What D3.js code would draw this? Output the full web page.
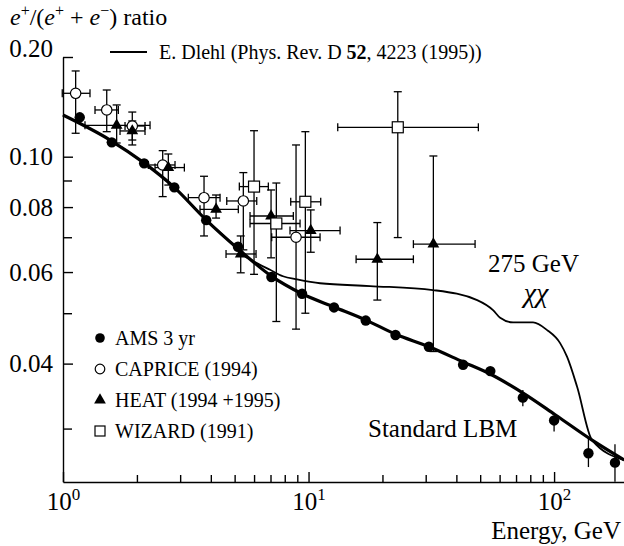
<!DOCTYPE html>
<html>
<head>
<meta charset="utf-8">
<script src="https://cdn.jsdelivr.net/npm/d3@7"></script>
<style>
body { margin: 0; background: #fff; }
svg { display: block; font-family: "Liberation Serif", "Times New Roman", serif; }
</style>
</head>
<body>
<svg width="624" height="546"></svg>
<script>
// AMS 3 yr (filled circles), energy in GeV and e+/(e+ + e-) ratio
var amsE = [1.17, 1.58, 2.14, 2.84, 3.83, 5.16, 7.06, 9.41, 12.7, 17.1, 22.6, 30.9, 42.6, 55.0, 74.6, 100, 138, 177];
var amsR = [0.1315, 0.1105, 0.0971, 0.0873, 0.0755, 0.0671, 0.0587, 0.0545, 0.0513, 0.0484, 0.0454, 0.0431, 0.0398, 0.0387, 0.0344, 0.0311, 0.0269, 0.0258];
var amsLo = [null, null, null, null, null, null, null, null, null, null, null, null, null, null, 0.0331, 0.0296, 0.0253, 0.0237];
var amsHi = [null, null, null, null, null, null, null, null, null, null, null, null, null, null, 0.0356, 0.0316, 0.0287, 0.0280];

// [E, ratio, E low, E high, ratio low, ratio high]
var caprice = [
	[1.126, 0.1554, 0.993, 1.288, 0.1177, 0.1815],
	[1.507, 0.1384, 1.350, 1.680, 0.119, 0.159],
	[1.915, 0.1238, 1.789, 2.158, 0.1123, 0.1364],
	[2.547, 0.0964, 2.226, 2.859, 0.0838, 0.1043],
	[3.753, 0.0834, 3.239, 4.361, 0.0704, 0.0917],
	[5.425, 0.0822, 4.644, 6.152, 0.0662, 0.0932],
	[8.894, 0.0700, 7.08, 11.14, 0.0466, 0.1085]
];
var heat = [
	[1.654, 0.1244, 1.229, 2.262, 0.110, 0.1433],
	[1.915, 0.1196, 1.707, 2.158, 0.1085, 0.1282],
	[2.685, 0.0953, 2.370, 3.121, 0.0882, 0.1019],
	[4.201, 0.0792, 3.614, 5.176, 0.0762, 0.0844],
	[5.294, 0.0650, 4.613, 6.112, 0.0598, 0.0704],
	[7.036, 0.0769, 5.777, 8.671, 0.0639, 0.0863],
	[10.21, 0.0721, 8.405, 13.44, 0.0655, 0.0790],
	[19.06, 0.0635, 15.62, 26.73, 0.0530, 0.0747],
	[32.24, 0.0679, 26.73, 47.67, 0.0422, 0.1005]
];
var wizard = [
	[5.998, 0.0876, 5.226, 6.859, 0.0594, 0.1198],
	[7.393, 0.0744, 5.777, 9.235, 0.0482, 0.0890],
	[9.705, 0.0819, 8.461, 11.21, 0.0500, 0.1190],
	[23.09, 0.1227, 13.15, 49.16, 0.0699, 0.1571]
];

// model curves
var lbmE = [1.0, 1.554, 2.138, 2.832, 3.824, 5.163, 7.036, 9.41, 12.70, 17.15, 22.5, 30.96, 42.6, 54.9, 74.8, 101, 142.8, 193];
var lbmR = [0.1336, 0.1123, 0.0973, 0.0874, 0.0756, 0.0665, 0.0590, 0.0545, 0.0514, 0.0485, 0.0456, 0.0431, 0.0403, 0.0382, 0.0351, 0.0319, 0.0285, 0.0261];
var dlehlE = [1.0, 1.554, 2.138, 2.832, 3.824, 5.0, 5.41, 5.94, 6.97, 7.87, 8.98, 11.14, 17.8, 32.1, 48.6, 56.4, 60.3, 68.1, 82.1, 93.7, 105.8, 113, 124.1, 142.8, 193];
var dlehlR = [0.1336, 0.1123, 0.0973, 0.0874, 0.0756, 0.0673, 0.0647, 0.0630, 0.0606, 0.0589, 0.0581, 0.0571, 0.0564, 0.0554, 0.0530, 0.0507, 0.0490, 0.0480, 0.0480, 0.0464, 0.0438, 0.0412, 0.0361, 0.0285, 0.0261];

var yMajor = [0.2, 0.1, 0.08, 0.06, 0.04];
var yMajorLabels = ["0.20", "0.10", "0.08", "0.06", "0.04"];
var yMinor = [0.09, 0.07, 0.05, 0.03];
var xMajor = [1, 10, 100];
var xMajorExp = ["0", "1", "2"];
var xMinor = [2, 3, 4, 5, 6, 7, 8, 9, 20, 30, 40, 50, 60, 70, 80, 90];

var svg = d3.select("svg");

var x = d3.scaleLog().domain([1, 200]).range([63, 628]);
// the printed axis is stretched above 0.1, so piecewise
var y = d3.scaleLog().domain([0.02368, 0.1, 0.2]).range([482, 156.7, 57]);

// y axis
var gy = svg.append("g")
	.attr("transform", "translate(63,0)")
	.call(d3.axisLeft(y).tickValues(yMajor).tickSizeInner(-10).tickSizeOuter(0).tickPadding(10)
		.tickFormat(function(d, i) { return yMajorLabels[i]; }));
gy.selectAll("text").attr("font-size", 25).attr("font-family", "Liberation Serif").attr("fill", "#000");
gy.selectAll(".tick").filter(function(d) { return d === 0.2; }).select("text").attr("transform", "translate(0,-9)");
var gy2 = svg.append("g")
	.attr("transform", "translate(63,0)")
	.call(d3.axisLeft(y).tickValues(yMinor).tickSizeInner(-9).tickSizeOuter(0).tickFormat(""));
gy2.select(".domain").remove();

// x axis
var gx = svg.append("g")
	.attr("transform", "translate(0,482)")
	.call(d3.axisBottom(x).tickValues(xMajor).tickSizeInner(-10).tickSizeOuter(0).tickPadding(10)
		.tickFormat(function() { return ""; }));
gx.selectAll(".tick text").each(function(d, i) {
	var t = d3.select(this).attr("font-size", 25).attr("font-family", "Liberation Serif").attr("fill", "#000");
	t.append("tspan").text("10");
	t.append("tspan").attr("dy", -10).attr("font-size", 17).text(xMajorExp[i]);
});
var gx2 = svg.append("g")
	.attr("transform", "translate(0,482)")
	.call(d3.axisBottom(x).tickValues(xMinor).tickSizeInner(-7).tickSizeOuter(0).tickFormat(""));
gx2.select(".domain").remove();
svg.selectAll(".domain, .tick line").attr("stroke-width", 1.4);

// curves
var line = d3.line()
	.x(function(d) { return x(d[0]); })
	.y(function(d) { return y(d[1]); })
	.curve(d3.curveMonotoneX);

svg.append("path")
	.datum(dlehlE.map(function(e, i) { return [e, dlehlR[i]]; }))
	.attr("d", line)
	.attr("fill", "none").attr("stroke", "#000").attr("stroke-width", 1.8);
svg.append("path")
	.datum(lbmE.map(function(e, i) { return [e, lbmR[i]]; }))
	.attr("d", line)
	.attr("fill", "none").attr("stroke", "#000").attr("stroke-width", 3.2);

// error bars
var cap = 4;
function errorBars(rows) {
	var g = svg.append("g").attr("stroke", "#000").attr("stroke-width", 1.3);
	rows.forEach(function(d) {
		var cx = x(d[0]), cy = y(d[1]);
		var x0 = x(d[2]), x1 = x(d[3]), y0 = y(d[4]), y1 = y(d[5]);
		g.append("line").attr("x1", x0).attr("x2", x1).attr("y1", cy).attr("y2", cy);
		g.append("line").attr("x1", x0).attr("x2", x0).attr("y1", cy - cap).attr("y2", cy + cap);
		g.append("line").attr("x1", x1).attr("x2", x1).attr("y1", cy - cap).attr("y2", cy + cap);
		g.append("line").attr("x1", cx).attr("x2", cx).attr("y1", y0).attr("y2", y1);
		g.append("line").attr("x1", cx - cap).attr("x2", cx + cap).attr("y1", y0).attr("y2", y0);
		g.append("line").attr("x1", cx - cap).attr("x2", cx + cap).attr("y1", y1).attr("y2", y1);
	});
}
errorBars(caprice);
errorBars(heat);
errorBars(wizard);

svg.append("g").attr("stroke", "#000").attr("stroke-width", 1.3)
	.selectAll("line")
	.data(amsE.map(function(e, i) { return [e, amsLo[i], amsHi[i]]; }).filter(function(d) { return d[1] != null; }))
	.enter().append("line")
	.attr("x1", function(d) { return x(d[0]); })
	.attr("x2", function(d) { return x(d[0]); })
	.attr("y1", function(d) { return y(d[1]); })
	.attr("y2", function(d) { return y(d[2]); });

// markers
var triangle = d3.symbol().type(d3.symbolTriangle).size(60);

svg.append("g").selectAll("circle")
	.data(amsE.map(function(e, i) { return [e, amsR[i]]; }))
	.enter().append("circle")
	.attr("cx", function(d) { return x(d[0]); })
	.attr("cy", function(d) { return y(d[1]); })
	.attr("r", 5.2)
	.attr("fill", "#000");

svg.append("g").selectAll("circle")
	.data(caprice)
	.enter().append("circle")
	.attr("cx", function(d) { return x(d[0]); })
	.attr("cy", function(d) { return y(d[1]); })
	.attr("r", 5.2)
	.attr("fill", "#fff").attr("stroke", "#000").attr("stroke-width", 1.2);

svg.append("g").selectAll("path")
	.data(heat)
	.enter().append("path")
	.attr("d", triangle)
	.attr("transform", function(d) { return "translate(" + x(d[0]) + "," + y(d[1]) + ")"; })
	.attr("fill", "#000");

svg.append("g").selectAll("rect")
	.data(wizard)
	.enter().append("rect")
	.attr("x", function(d) { return x(d[0]) - 5.5; })
	.attr("y", function(d) { return y(d[1]) - 5.5; })
	.attr("width", 11).attr("height", 11)
	.attr("fill", "#fff").attr("stroke", "#000").attr("stroke-width", 1.2);

// axis titles
var yt = svg.append("text").attr("x", 10).attr("y", 25).attr("font-size", 24);
yt.append("tspan").attr("font-style", "italic").text("e");
yt.append("tspan").attr("dy", -9).attr("font-size", 16).text("+");
yt.append("tspan").attr("dy", 9).text("/(");
yt.append("tspan").attr("font-style", "italic").text("e");
yt.append("tspan").attr("dy", -9).attr("font-size", 16).text("+");
yt.append("tspan").attr("dy", 9).text(" + ");
yt.append("tspan").attr("font-style", "italic").text("e");
yt.append("tspan").attr("dy", -9).attr("font-size", 16).text("\u2212");
yt.append("tspan").attr("dy", 9).text(") ratio");

svg.append("text").attr("x", 621).attr("y", 539).attr("text-anchor", "end")
	.attr("font-size", 25).text("Energy, GeV");

// annotations
svg.append("text").attr("x", 488).attr("y", 272).attr("font-size", 25).text("275 GeV");
svg.append("text").attr("x", 536).attr("y", 302).attr("text-anchor", "middle")
	.attr("font-size", 28).attr("font-style", "italic").text("\u03C7\u03C7");
svg.append("text").attr("x", 368).attr("y", 437).attr("font-size", 25).text("Standard LBM");

// model legend
svg.append("line").attr("x1", 110).attr("x2", 147).attr("y1", 52).attr("y2", 52)
	.attr("stroke", "#000").attr("stroke-width", 1.8);
var lt = svg.append("text").attr("x", 159).attr("y", 59).attr("font-size", 20);
lt.append("tspan").text("E. Dlehl (Phys. Rev. D ");
lt.append("tspan").attr("font-weight", "bold").text("52");
lt.append("tspan").text(", 4223 (1995))");

// data legend
var legendNames = ["AMS 3 yr", "CAPRICE (1994)", "HEAT (1994 +1995)", "WIZARD (1991)"];
var legendY = [338, 369, 400, 431];
var lg = svg.append("g");
legendNames.forEach(function(name, i) {
	var ly = legendY[i];
	if (i === 0) lg.append("circle").attr("cx", 100).attr("cy", ly).attr("r", 4.8).attr("fill", "#000");
	if (i === 1) lg.append("circle").attr("cx", 100).attr("cy", ly).attr("r", 4.8).attr("fill", "#fff").attr("stroke", "#000").attr("stroke-width", 1.2);
	if (i === 2) lg.append("path").attr("d", triangle).attr("transform", "translate(100," + ly + ")").attr("fill", "#000");
	if (i === 3) lg.append("rect").attr("x", 95).attr("y", ly - 5).attr("width", 10).attr("height", 10).attr("fill", "#fff").attr("stroke", "#000").attr("stroke-width", 1.2);
	lg.append("text").attr("x", 115).attr("y", ly + 7).attr("font-size", 20).text(name);
});
</script>
</body>
</html>
